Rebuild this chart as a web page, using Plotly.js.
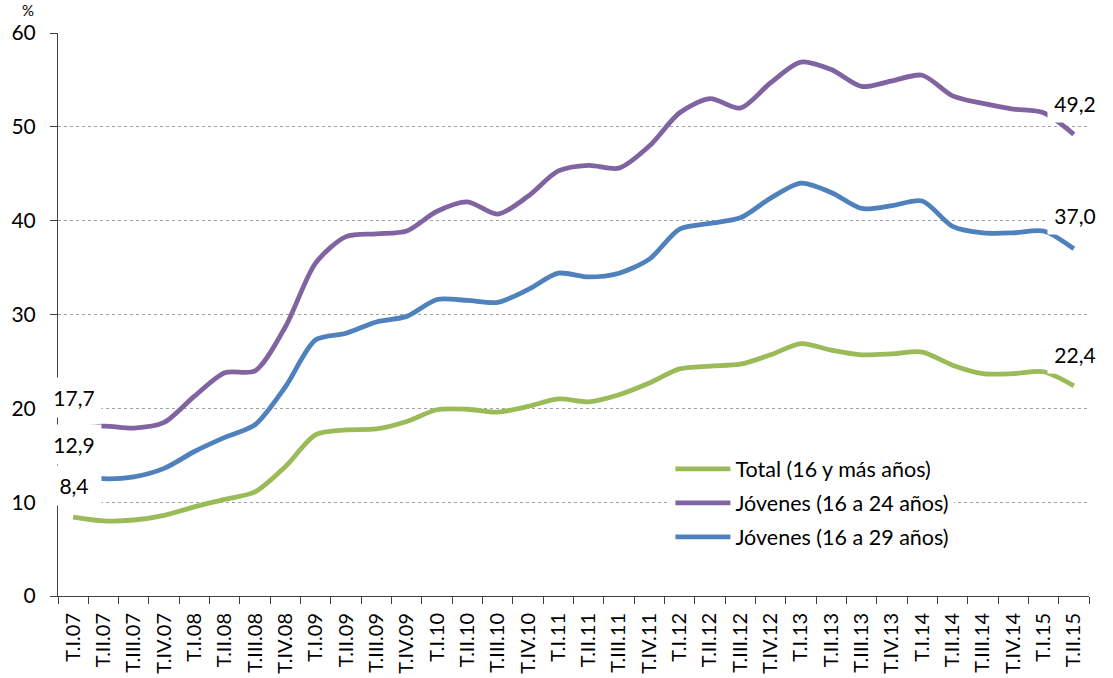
<!DOCTYPE html>
<html>
<head>
<meta charset="utf-8">
<script src="https://cdn.plot.ly/plotly-3.0.1.min.js"></script>
<style>html,body{margin:0;padding:0;background:#fff;}</style>
</head>
<body>
<div id="chart" style="width:1113px;height:678px;"></div>
<script>
const categories = [
  "T.I.07","T.II.07","T.III.07","T.IV.07",
  "T.I.08","T.II.08","T.III.08","T.IV.08",
  "T.I.09","T.II.09","T.III.09","T.IV.09",
  "T.I.10","T.II.10","T.III.10","T.IV.10",
  "T.I.11","T.II.11","T.III.11","T.IV.11",
  "T.I.12","T.II.12","T.III.12","T.IV.12",
  "T.I.13","T.II.13","T.III.13","T.IV.13",
  "T.I.14","T.II.14","T.III.14","T.IV.14",
  "T.I.15","T.II.15"
];
const seriesNames = ["Total (16 y más años)", "Jóvenes (16 a 24 años)", "Jóvenes (16 a 29 años)"];
const total = [8.4, 8.0, 8.1, 8.6, 9.5, 10.3, 11.1, 13.8, 17.2, 17.7, 17.8, 18.6,
  19.85, 19.9, 19.6, 20.2, 21.0, 20.7, 21.45, 22.7, 24.2, 24.5, 24.7, 25.7,
  26.9, 26.2, 25.7, 25.8, 26.0, 24.6, 23.7, 23.7, 23.9, 22.4];
const jovenes1624 = [17.7, 18.1, 17.9, 18.5, 21.3, 23.8, 24.0, 28.7, 35.5, 38.3, 38.6, 38.9,
  41.0, 42.0, 40.7, 42.6, 45.3, 45.9, 45.6, 47.95, 51.5, 53.0, 52.0, 54.7,
  56.9, 56.1, 54.3, 54.9, 55.5, 53.3, 52.5, 51.9, 51.5, 49.2];
const jovenes1629 = [12.9, 12.5, 12.7, 13.6, 15.4, 16.9, 18.25, 22.3, 27.3, 28.0, 29.2, 29.8,
  31.6, 31.5, 31.3, 32.65, 34.4, 34.0, 34.4, 35.9, 39.1, 39.7, 40.3, 42.4,
  44.0, 43.0, 41.3, 41.6, 42.1, 39.4, 38.7, 38.7, 38.9, 37.0];
const labelText = {first: ["8,4", "17,7", "12,9"], last: ["22,4", "49,2", "37,0"]};

const colors = ["#9BBB59", "#8064A2", "#4F81BD"];
const seriesData = [total, jovenes1624, jovenes1629];
const FONT = "Lato, 'Open Sans', sans-serif";

const traces = seriesData.map((vals, i) => ({
  type: "scatter",
  mode: "lines",
  x: categories,
  y: vals,
  name: seriesNames[i],
  legendgroup: "g" + i,
  line: {color: colors[i], width: 4.8, shape: "spline", smoothing: 0.8},
  hoverinfo: "x+y+name"
}));

const firstShift = [32, 32, 30];
const lastShift = [31, 31, 33];
const annotations = [];
seriesData.forEach((vals, i) => {
  annotations.push({
    x: categories[0], y: vals[0], xref: "x", yref: "y",
    text: labelText.first[i], showarrow: false,
    yshift: firstShift[i], xshift: 1, width: 40,
    bgcolor: "#ffffff", borderpad: 7,
    font: {family: FONT, size: 21, color: "#000"}
  });
  annotations.push({
    x: categories[categories.length - 1], y: vals[vals.length - 1], xref: "x", yref: "y",
    text: labelText.last[i], showarrow: false,
    yshift: lastShift[i], xshift: 1, width: 42,
    bgcolor: "#ffffff", borderpad: 6,
    font: {family: FONT, size: 21, color: "#000"}
  });
});
annotations.push({
  xref: "paper", yref: "paper", x: -0.029, y: 1.0, xanchor: "center", yanchor: "bottom",
  text: "%", showarrow: false, yshift: 13, borderpad: 0,
  font: {family: FONT, size: 15, color: "#000"}
});

const layout = {
  width: 1113, height: 678,
  margin: {l: 58, r: 24, t: 33, b: 82},
  paper_bgcolor: "#ffffff", plot_bgcolor: "#ffffff",
  font: {family: FONT, size: 20, color: "#000"},
  showlegend: true,
  legend: {
    x: 0.594, y: 0.262, xanchor: "left", yanchor: "top",
    bgcolor: "#ffffff", borderwidth: 0,
    traceorder: "grouped", tracegroupgap: 3,
    itemwidth: 55,
    font: {family: FONT, size: 21.5, color: "#000"}
  },
  xaxis: {
    type: "category", range: [-0.5, categories.length - 0.5],
    tickangle: -90, ticks: "outside", ticklen: 7, tickson: "boundaries",
    tickcolor: "#404040", showline: true, linecolor: "#404040", linewidth: 1,
    showgrid: false, zeroline: false, ticklabelstandoff: 8,
    tickfont: {family: FONT, size: 20, color: "#000"}
  },
  yaxis: {
    range: [0, 60], dtick: 10, ticks: "outside", ticklen: 7,
    tickcolor: "#404040", showline: true, linecolor: "#404040", linewidth: 1,
    showgrid: true, gridcolor: "#a0a0a0", griddash: "dot", gridwidth: 1,
    zeroline: false, ticklabelstandoff: 10,
    tickfont: {family: FONT, size: 21, color: "#000"}
  },
  annotations: annotations
};

Plotly.newPlot("chart", traces, layout, {displayModeBar: false, staticPlot: true});
</script>
</body>
</html>
